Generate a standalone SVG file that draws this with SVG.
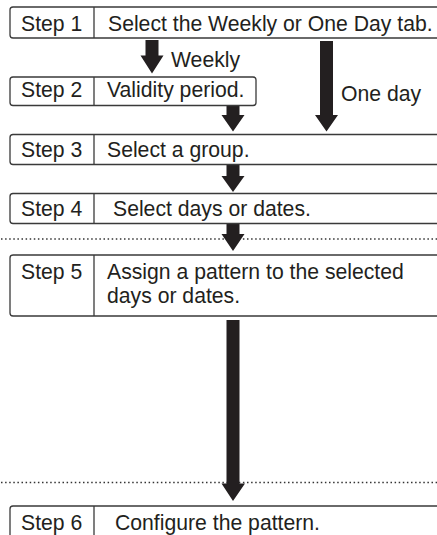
<svg xmlns="http://www.w3.org/2000/svg" width="437" height="535" viewBox="0 0 437 535">
<style>
.box{fill:#fff;stroke:#3a3a3a;stroke-width:1.3}
.div{stroke:#3a3a3a;stroke-width:1.3}
.t{font-family:"Liberation Sans",Arial,sans-serif;font-size:21.2px;fill:#231f20}
.arr{fill:#231f20}
.dot{stroke:#333;stroke-width:1.5;stroke-dasharray:1.5 2.6}
</style>
<rect width="437" height="535" fill="#fff"/>
<g id="guides">
<line class="dot" x1="1" y1="239" x2="437" y2="239"/>
<line class="dot" x1="1" y1="482.5" x2="437" y2="482.5"/>
</g>
<g id="connectors">
<path class="arr" d="M145.5,40 H158.5 V55.5 H163.5 L152,73.5 L140.5,55.5 H145.5 Z"/>
<path class="arr" d="M320,41 H333 V115 H338 L326.5,131.5 L315,115 H320 Z"/>
<path class="arr" d="M226.5,106 H239.5 V115 H244.5 L233,131.5 L221.5,115 H226.5 Z"/>
<path class="arr" d="M226.5,165 H239.5 V176 H244.5 L233,192 L221.5,176 H226.5 Z"/>
<path class="arr" d="M226.5,224 H239.5 V234 H244.5 L233,251 L221.5,234 H226.5 Z"/>
<path class="arr" d="M226.5,320 H239.5 V483.5 H245 L233,501 L221.5,483.5 H226.5 Z"/>
<text class="t" x="171" y="67">Weekly</text>
<text class="t" x="341" y="101">One day</text>
</g>
<g id="step1">
<rect class="box" x="10" y="7" width="440" height="31" rx="3"/>
<line class="div" x1="94" y1="7" x2="94" y2="38"/>
<text class="t" x="21" y="31">Step 1</text>
<text class="t" x="108" y="31">Select the Weekly or One Day tab.</text>
</g>
<g id="step2">
<rect class="box" x="10" y="77" width="246" height="28.5" rx="3"/>
<line class="div" x1="94" y1="77" x2="94" y2="105.5"/>
<text class="t" x="21" y="97">Step 2</text>
<text class="t" x="107" y="97">Validity period.</text>
</g>
<g id="step3">
<rect class="box" x="10" y="134.5" width="440" height="30" rx="3"/>
<line class="div" x1="94" y1="134.5" x2="94" y2="164.5"/>
<text class="t" x="21" y="157">Step 3</text>
<text class="t" x="107" y="157">Select a group.</text>
</g>
<g id="step4">
<rect class="box" x="10" y="193.5" width="440" height="30" rx="3"/>
<line class="div" x1="94" y1="193.5" x2="94" y2="223.5"/>
<text class="t" x="21" y="216">Step 4</text>
<text class="t" x="113" y="216">Select days or dates.</text>
</g>
<g id="step5">
<rect class="box" x="10" y="255" width="440" height="61" rx="3"/>
<line class="div" x1="94" y1="255" x2="94" y2="316"/>
<text class="t" x="21" y="279">Step 5</text>
<text class="t" x="107" y="279">Assign a pattern to the selected</text>
<text class="t" x="107" y="303">days or dates.</text>
</g>
<g id="step6">
<rect class="box" x="10" y="506" width="440" height="40" rx="3"/>
<line class="div" x1="94" y1="506" x2="94" y2="540"/>
<text class="t" x="21" y="530">Step 6</text>
<text class="t" x="115" y="530">Configure the pattern.</text>
</g>
</svg>
